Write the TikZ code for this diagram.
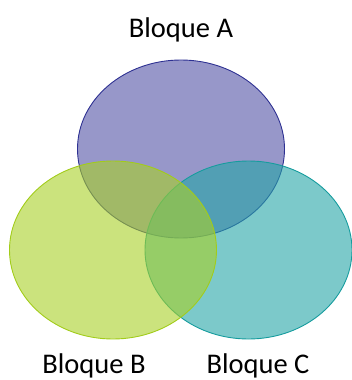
\documentclass[tikz,border=0pt]{standalone}
\usepackage{fontspec}
\setmainfont{Carlito}
\usetikzlibrary{shapes.geometric}
\definecolor{cafill}{HTML}{5252A5}
\definecolor{caline}{HTML}{2E3192}
\definecolor{cbfill}{HTML}{A8D026}
\definecolor{cbline}{HTML}{A2CC1A}
\definecolor{ccfill}{HTML}{25A5A7}
\definecolor{ccline}{HTML}{169C9E}
\definecolor{cdark}{HTML}{000000}

\begin{document}
\begin{tikzpicture}[x=1pt,y=-1pt,
  blob/.style={ellipse, inner sep=0pt, minimum width=207pt, minimum height=178pt, line width=0.9pt, fill opacity=0.6},
  lbl/.style={anchor=base, font=\fontsize{28.5}{32}\selectfont, text=cdark, inner sep=0pt}]

\useasboundingbox (0,0) rectangle (351,380);
\node[blob, fill=cafill, draw=caline] (blqa) at (181,149) {};
\node[blob, fill=ccfill, draw=ccline] (blqc) at (248.5,250) {};
\node[blob, fill=cbfill, draw=cbline] (blqb) at (113,250) {};

\node[lbl] (tita) at (181,37) {Bloque A};
\node[lbl] (titb) at (94,373) {Bloque B};
\node[lbl] (titc) at (258,373) {Bloque C};
\end{tikzpicture}
\end{document}
